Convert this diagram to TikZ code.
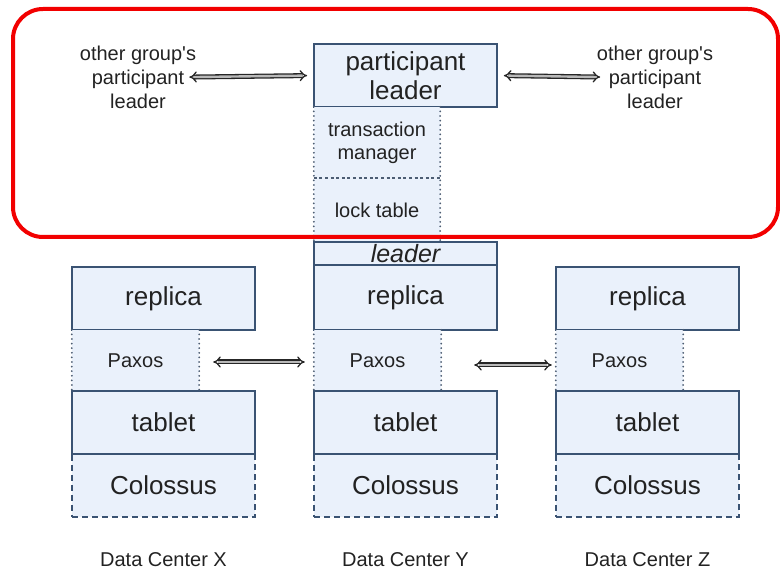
\documentclass[tikz,border=0pt]{standalone}
\usepackage{fontspec}
\setmainfont{Liberation Sans}
\newfontfamily\plainfont{Liberation Sans}
\usetikzlibrary{arrows.meta}
\definecolor{boxfill}{HTML}{EAF1FB}
\definecolor{boxline}{HTML}{3A5373}
\definecolor{dotline}{HTML}{4C5D73}
\definecolor{frame}{HTML}{F20000}
\definecolor{ink}{HTML}{222222}
\tikzset{
  solidbox/.style={draw=boxline, line width=1.6pt, fill=boxfill, inner sep=0pt,
    text=ink, align=center, font=\fontsize{26}{29}\selectfont},
  dashbox/.style={solidbox, dashed, dash pattern=on 6pt off 4pt},
  softbox/.style={fill=boxfill, inner sep=0pt, text=ink, align=center,
    font=\fontsize{20}{23}\selectfont},
  dotside/.style={draw=dotline, line width=2pt, line cap=round, dash pattern=on 0pt off 4.6pt},
  sepline/.style={draw=dotline, line width=1.6pt, dash pattern=on 3pt off 2.6pt},
  label/.style={inner sep=0pt, text=ink, align=center, font=\plainfont\fontsize{20}{24}\selectfont},
  dcname/.style={inner sep=0pt, text=ink, anchor=base, font=\fontsize{20}{24}\selectfont},
  dbl/.style={draw=black!85, double=gray!55, double distance=2.4pt, line width=1.3pt,
    {Implies}-{Implies}}
}
\begin{document}
\begin{tikzpicture}[x=1pt,y=-1pt]
\useasboundingbox (0,0) rectangle (780,569);

% participant leader and its stack
\node[solidbox, minimum width=183pt, minimum height=63pt] (pl) at (405.5,75.5) {participant\\leader};
\node[softbox, minimum width=126pt, minimum height=71pt] (tm) at (377,142.5) {transaction\\manager};
\node[softbox, minimum width=126pt, minimum height=64pt] (lt) at (377,210) {lock table};
\draw[dotside] (tm.north west) -- (lt.south west);
\draw[dotside] (tm.north east) -- (lt.south east);
\draw[sepline] (tm.south west) -- (tm.south east);
\node[solidbox, minimum width=183pt, minimum height=23pt, font=\fontsize{25}{29}\selectfont\itshape] (ld) at (405.5,253.5) {leader};

% data center X
\node[solidbox, minimum width=183pt, minimum height=63pt] (repx) at (163.5,298.5) {replica};
\node[softbox, minimum width=127pt, minimum height=61pt] (paxx) at (135.5,360.5) {Paxos};
\node[dashbox, minimum width=183pt, minimum height=63pt] (colx) at (163.5,485.5) {Colossus};
\node[solidbox, minimum width=183pt, minimum height=63pt] (tabx) at (163.5,422.5) {tablet};
\draw[dotside] (paxx.north west) -- (paxx.south west);
\draw[dotside] (paxx.north east) -- (paxx.south east);

% data center Y
\node[solidbox, minimum width=183pt, minimum height=65pt] (repy) at (405.5,297.5) {replica};
\node[softbox, minimum width=127pt, minimum height=61pt] (paxy) at (377.5,360.5) {Paxos};
\node[dashbox, minimum width=183pt, minimum height=63pt] (coly) at (405.5,485.5) {Colossus};
\node[solidbox, minimum width=183pt, minimum height=63pt] (taby) at (405.5,422.5) {tablet};
\draw[dotside] (paxy.north west) -- (paxy.south west);
\draw[dotside] (paxy.north east) -- (paxy.south east);

% data center Z
\node[solidbox, minimum width=183pt, minimum height=63pt] (repz) at (647.5,298.5) {replica};
\node[softbox, minimum width=127pt, minimum height=61pt] (paxz) at (619.5,360.5) {Paxos};
\node[dashbox, minimum width=183pt, minimum height=63pt] (colz) at (647.5,485.5) {Colossus};
\node[solidbox, minimum width=183pt, minimum height=63pt] (tabz) at (647.5,422.5) {tablet};
\draw[dotside] (paxz.north west) -- (paxz.south west);
\draw[dotside] (paxz.north east) -- (paxz.south east);

% other groups
\node[label] (othl) at (138,77) {other group's\\participant\\leader};
\node[label] (othr) at (655,77) {other group's\\participant\\leader};

% data center names
\node[dcname] (dcx) at (163.5,566) {Data Center X};
\node[dcname] (dcy) at (405.5,566) {Data Center Y};
\node[dcname] (dcz) at (647.5,566) {Data Center Z};

% links
\draw[dbl, shorten <=-7pt, shorten >=6pt] (othl.east) -- (pl.west);
\draw[dbl, shorten <=6pt, shorten >=-3.5pt] (pl.east) -- (othr.west);
\draw[dbl, shorten <=14pt, shorten >=9pt] ([yshift=-1.5pt]paxx.east) -- ([yshift=-1.5pt]paxy.west);
\draw[dbl, shorten <=33pt, shorten >=4pt] ([yshift=-4.5pt]paxy.east) -- ([yshift=-4.5pt]paxz.west);

% highlight
\draw[frame, line width=4pt, rounded corners=30pt] (13,9) rectangle (778,237);
\end{tikzpicture}
\end{document}
